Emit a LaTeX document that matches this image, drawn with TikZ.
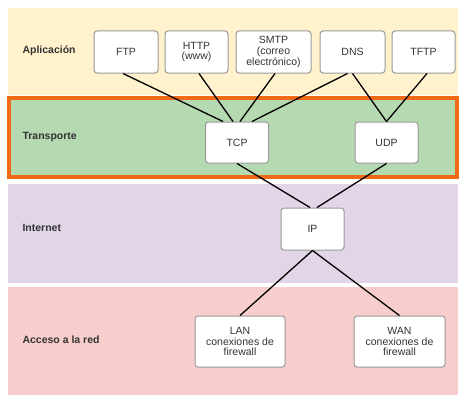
\documentclass[tikz,border=0pt]{standalone}
\usepackage{fontspec}
\setmainfont{Liberation Sans}
\usepackage{tikz}
\definecolor{aplic}{RGB}{255,242,204}
\definecolor{transp}{RGB}{181,217,177}
\definecolor{inet}{RGB}{225,213,231}
\definecolor{acceso}{RGB}{248,206,204}
\definecolor{marco}{RGB}{240,105,20}

\begin{document}
\begin{tikzpicture}[x=1pt, y=-1pt, box/.style={draw=black!40, fill=white, rounded corners=3pt, line width=1pt, minimum width=63pt, minimum height=42pt, align=center, text=black!80, inner sep=1pt, font=\fontsize{10.5}{10.8}\selectfont}, layer/.style={anchor=west, text=black!80, font=\bfseries\fontsize{10.5}{12}\selectfont}, link/.style={line width=1.3pt}]
\useasboundingbox[fill=white] (0,0) rectangle (473,412);

% capas
\fill[aplic] (8,8) rectangle (458,95);
\fill[inet] (8,184) rectangle (458,283);
\fill[acceso] (8,287) rectangle (458,395);
\filldraw[fill=transp, draw=marco, line width=3.2pt] (9,98) rectangle (457,177);

\node[layer] (lapl) at (19,51) {Aplicación};
\node[layer] (ltra) at (19,137) {Transporte};
\node[layer] (lint) at (19,228) {Internet};
\node[layer] (lacc) at (19,340) {Acceso a la red};

% protocolos
\node[box, minimum width=64pt] (ftp) at (126,52) {FTP};
\node[box] (http) at (196.5,52) {HTTP\\(www)};
\node[box, minimum width=75pt] (smtp) at (273.5,52) {SMTP\\(correo\\electrónico)};
\node[box, minimum width=65pt] (dns) at (352.5,52) {DNS};
\node[box] (tftp) at (423.5,52) {TFTP};

\node[box, minimum height=41pt] (tcp) at (237,142.5) {TCP};
\node[box, minimum height=41pt] (udp) at (386.5,142.5) {UDP};

\node[box] (ip) at (312.5,229) {IP};

\node[box, minimum width=90pt, minimum height=51pt] (lan) at (240,341.5) {LAN\\conexiones de\\firewall};
\node[box, minimum width=91pt, minimum height=51pt] (wan) at (399.5,341.5) {WAN\\conexiones de\\firewall};

% enlaces
\draw[link] ([xshift=-3pt]ftp.south) -- ([xshift=-14pt]tcp.north);
\draw[link] ([xshift=2.5pt]http.south) -- ([xshift=-4pt]tcp.north);
\draw[link] ([xshift=1.5pt]smtp.south) -- ([xshift=3pt]tcp.north);
\draw[link] ([xshift=-5pt]dns.south) -- ([xshift=15pt]tcp.north);
\draw[link] (dns.south) -- (udp.north);
\draw[link] ([xshift=3.5pt]tftp.south) -- (udp.north);
\draw[link] (tcp.south) -- ([xshift=-2.5pt]ip.north);
\draw[link] (udp.south) -- ([xshift=4.5pt]ip.north);
\draw[link] (ip.south) -- (lan.north);
\draw[link] (ip.south) -- (wan.north);
\end{tikzpicture}
\end{document}
